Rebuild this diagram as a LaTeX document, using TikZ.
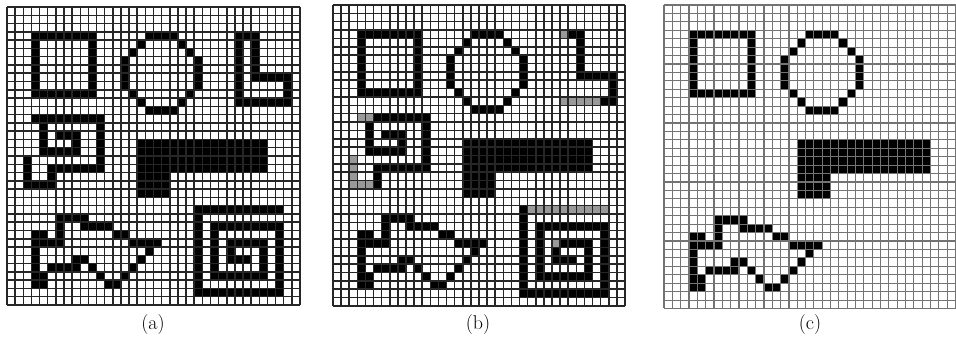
\documentclass[tikz,border=0pt]{standalone}
\tikzset{
  gridA/.style={line width=1.5pt,black!85},
  gridC/.style={line width=1.1pt,black!55},
  cellfill/.style={fill=black},
  cellgray/.style={fill=black!40},
  cellwhite/.style={fill=white},
  lbl/.style={font=\fontsize{20}{22}\selectfont,inner sep=0pt}
}
\newcommand\runs[2]{\foreach \r/\a/\b in {#2} {\fill[#1] (\a,\r) rectangle (\b+1,\r+1);}}
\newcommand\gridlines[3]{\foreach \i in {0,...,#2} {\draw[#1] (\i,0) -- (\i,#3);}\foreach \i in {0,...,#3} {\draw[#1] (0,\i) -- (#2,\i);}}
% shapes
\newcommand\shpSquare{\runs{cellfill}{3/3/10,10/3/10,4/3/3,5/3/3,6/3/3,7/3/3,8/3/3,9/3/3,4/10/10,5/10/10,6/10/10,7/10/10,8/10/10,9/10/10}}
\newcommand\shpOct{\runs{cellfill}{3/17/20,4/16/16,4/21/21,5/15/15,5/22/22,6/14/14,7/14/14,8/14/14,9/14/14,6/23/23,7/23/23,8/23/23,9/23/23,10/15/15,10/22/22,11/16/16,11/21/21,12/17/20}}
\newcommand\shpBar{\runs{cellfill}{16/16/31,17/16/31,18/16/31,19/16/31,20/16/19,21/16/19,22/16/19}}
\newcommand\shpArrow{\runs{cellfill}{25/6/9,26/6/6,26/9/12,27/3/4,27/6/6,27/13/14,28/3/3,28/4/6,28/15/18,29/3/3,29/17/17,30/3/3,30/8/9,30/16/16,31/3/3,31/5/8,31/10/10,31/15/15,32/3/4,32/11/11,32/14/14,33/3/4,33/12/13}}
\newcommand\shpL{\runs{cellfill}{3/28/30,4/28/28,5/28/28,6/28/28,7/28/28,4/30/30,5/30/30,6/30/30,7/30/30,8/28/28,8/30/34,9/28/28,10/28/28,9/34/34,10/34/34,11/28/34}}
\newcommand\shpSpiral{\runs{cellfill}{13/3/11,14/4/4,14/11/11,15/4/4,15/6/8,15/11/11,16/4/4,16/8/8,16/11/11,17/4/8,17/11/11,18/2/2,18/11/11,19/2/2,19/5/11,20/2/2,20/5/5,21/2/5}}
\newcommand\shpSq{\runs{cellfill}{24/23/33,25/23/23,26/23/23,26/25/33,27/23/23,27/25/25,27/33/33,28/23/23,28/25/25,28/27/31,28/33/33,29/23/23,29/25/25,29/27/27,29/31/31,29/33/33,30/23/23,30/25/25,30/27/29,30/31/31,30/33/33,31/23/23,31/25/25,31/31/31,31/33/33,32/23/23,32/25/31,32/33/33,33/23/23,33/33/33,34/23/33}}
\begin{document}
\begin{tikzpicture}[x=1pt,y=-1pt]
\useasboundingbox (0,0) rectangle (956,342);
\fill[white] (0,0) rectangle (956,342);
% panel (a)
\begin{scope}[shift={(7,7)},x=8.139pt,y=-8.278pt]
  \shpSquare \shpOct \shpL \shpSpiral \shpBar \shpArrow \shpSq
  \gridlines{gridA}{36}{36}
\end{scope}
% panel (b)
\begin{scope}[shift={(333,5)},x=8.111pt,y=-8.36pt]
  \shpSquare \shpOct \shpL \shpSpiral \shpBar \shpArrow \shpSq
  % cells that are missing or faint in (b)
  \runs{cellwhite}{4/28/28,5/28/28,6/28/28,7/28/28,8/28/28,9/28/28,10/28/28}
  \runs{cellgray}{3/28/28,11/28/32,13/3/4,18/2/2,19/2/2,20/2/2,21/2/4,24/24/33,28/27/27}
  \gridlines{gridA}{36}{36}
\end{scope}
% panel (c)
\begin{scope}
\clip (0,0) rectangle (956,342);
\begin{scope}[shift={(664,5)},x=8.33pt,y=-8.43pt]
  \shpSquare \shpOct \shpBar \shpArrow
  \gridlines{gridC}{36}{36}
\end{scope}
\end{scope}
\node[lbl] (la) at (153,325) {(a)};
\node[lbl] (lb) at (478,325) {(b)};
\node[lbl] (lc) at (810,325) {(c)};
\end{tikzpicture}
\end{document}
